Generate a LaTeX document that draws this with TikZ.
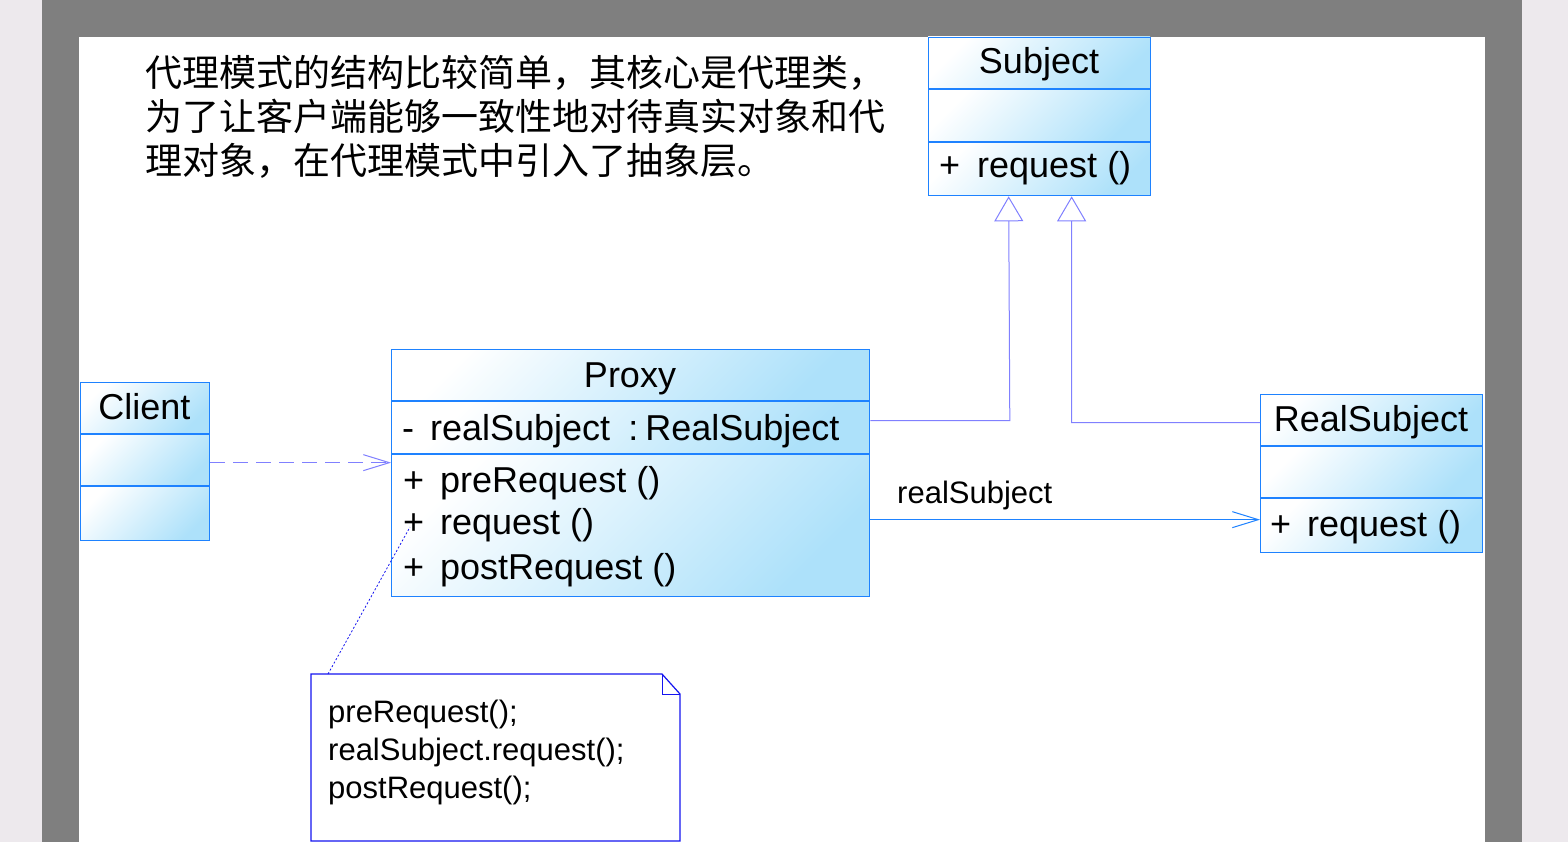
\documentclass[tikz,border=0pt]{standalone}
\usepackage{fontspec}
\setmainfont{Liberation Sans}
\newfontfamily\cjk{Noto Sans CJK SC}
\usetikzlibrary{arrows.meta}
\definecolor{cborder}{RGB}{30,130,255}
\definecolor{cfill}{RGB}{173,225,250}
\definecolor{cgen}{RGB}{128,128,255}
\definecolor{cnote}{RGB}{20,20,240}
\definecolor{cgray}{RGB}{127,127,127}
\definecolor{cout}{RGB}{237,233,237}
\tikzset{
  comp/.style={top color=white, bottom color=cfill, shading angle=45},
  boxline/.style={draw=cborder, line width=1.3pt},
  classnode/.style={draw=cborder, line width=1.3pt, anchor=north west, inner sep=0pt},
  big/.style={font=\fontsize{36}{40}\selectfont, inner sep=0pt},
  small/.style={font=\fontsize{31}{38}\selectfont, inner sep=0pt},
  gen/.style={draw=cgen, line width=1pt, -{Triangle[open,length=25pt,width=29pt]}},
  assoc/.style={draw=cborder, line width=1pt, -{Straight Barb[length=26pt,width=16pt]}},
  dep/.style={draw=cgen, line width=1pt, dash pattern=on 15pt off 8pt, -{Straight Barb[length=26pt,width=16pt]}},
}
\begin{document}
\begin{tikzpicture}[x=1pt,y=-1pt]
\useasboundingbox (0,0) rectangle (1568,842);
% background
\fill[cout] (0,0) rectangle (42,842);
\fill[cgray] (42,0) rectangle (1522,842);
\fill[cout] (1522,0) rectangle (1568,842);
\fill[white] (79,37) rectangle (1485,842);

% Chinese text
\node[anchor=base west, inner sep=0pt, font=\cjk\fontsize{37}{44}\selectfont] (t1) at (145,87) {代理模式的结构比较简单，其核心是代理类，};
\node[anchor=base west, inner sep=0pt, font=\cjk\fontsize{37}{44}\selectfont] (t2) at (145,131) {为了让客户端能够一致性地对待真实对象和代};
\node[anchor=base west, inner sep=0pt, font=\cjk\fontsize{37}{44}\selectfont] (t3) at (145,175) {理对象，在代理模式中引入了抽象层。};

% Subject
\shade[comp] (928,37) rectangle (1150,89);
\shade[comp] (928,89) rectangle (1150,142);
\shade[comp] (928,142) rectangle (1150,195);
\draw[boxline] (928,89) -- (1150,89) (928,142) -- (1150,142);
\node[classnode, minimum width=222pt, minimum height=158pt] (subject) at (928,37) {};
\node[big, anchor=base] (subjectname) at (1039,74) {Subject};
\node[big, anchor=base west] (subjectop) at (939,178) {\makebox[38pt][l]{+}request ()};

% Client
\shade[comp] (80,382) rectangle (209,434);
\shade[comp] (80,434) rectangle (209,486);
\shade[comp] (80,486) rectangle (209,540);
\draw[boxline] (80,434) -- (209,434) (80,486) -- (209,486);
\node[classnode, minimum width=129pt, minimum height=158pt] (client) at (80,382) {};
\node[big, anchor=base] (clientname) at (144.5,419) {Client};

% Proxy
\shade[comp] (391,349) rectangle (869,401);
\shade[comp] (391,401) rectangle (869,454);
\shade[comp] (391,454) rectangle (869,596);
\draw[boxline] (391,401) -- (869,401) (391,454) -- (869,454);
\node[classnode, minimum width=478pt, minimum height=247pt] (proxy) at (391,349) {};
\node[big, anchor=base] (proxyname) at (630,387) {Proxy};
\node[big, anchor=base west] (proxyattr) at (402,440) {\makebox[28pt][l]{-}realSubject\hspace{18pt}:\hspace{7pt}RealSubject};
\node[big, anchor=base west] (proxyop1) at (403,492) {\makebox[37pt][l]{+}preRequest ()};
\node[big, anchor=base west] (proxyop2) at (403,534) {\makebox[37pt][l]{+}request ()};
\node[big, anchor=base west] (proxyop3) at (403,579) {\makebox[37pt][l]{+}postRequest ()};

% RealSubject
\shade[comp] (1260,394) rectangle (1482,446);
\shade[comp] (1260,446) rectangle (1482,498);
\shade[comp] (1260,498) rectangle (1482,552);
\draw[boxline] (1260,446) -- (1482,446) (1260,498) -- (1482,498);
\node[classnode, minimum width=222pt, minimum height=158pt] (rsubject) at (1260,394) {};
\node[big, anchor=base] (rsubjectname) at (1371,431) {RealSubject};
\node[big, anchor=base west] (rsubjectop) at (1270,536) {\makebox[37pt][l]{+}request ()};

% Note
\coordinate (n1) at (311,674);
\coordinate (n2) at (662,674);
\coordinate (n3) at (680,694);
\coordinate (n4) at (680,841);
\coordinate (n5) at (311,841);
\draw[cnote, line width=1.2pt, fill=white] (n1) -- (n2) -- (n3) -- (n4) -- (n5) -- cycle;
\draw[cnote, line width=1pt] (n2) -- (662,694) -- (n3);
\node[small, anchor=base west] (note1) at (328,722) {preRequest();};
\node[small, anchor=base west] (note2) at (328,760) {realSubject.request();};
\node[small, anchor=base west] (note3) at (328,798) {postRequest();};
\coordinate (notetop) at (328,674);
\coordinate (notetarget) at (410,527);
\draw[cnote, line width=0.8pt, dash pattern=on 2pt off 2pt] (notetop) -- (notetarget);

% Connectors
\draw[gen] ([yshift=52.5pt]proxy.east) -- ++(139.5,0) coordinate (g1) -- ([xshift=-31pt]subject.south);
\draw[gen] ([yshift=51pt]rsubject.west) -- ++(-188.5,0) coordinate (g2) -- ([xshift=32pt]subject.south);
\draw[assoc] ([yshift=-46.5pt]proxy.east) coordinate (a1) -- (a1 -| rsubject.west);
\draw[dep] ([yshift=-1pt]client.east) coordinate (d1) -- (d1 -| proxy.west);
\node[small, anchor=base west] (assoclabel) at (897,503) {realSubject};
\end{tikzpicture}
\end{document}
